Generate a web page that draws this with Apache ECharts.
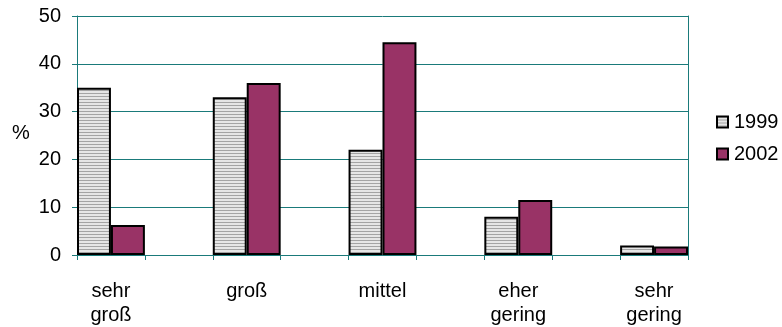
<!DOCTYPE html>
<html>
<head>
<meta charset="utf-8">
<script src="https://cdn.jsdelivr.net/npm/echarts@6/dist/echarts.min.js"></script>
<style>
  html, body { margin: 0; padding: 0; background: #ffffff; }
  #chart { width: 782px; height: 327px; }
</style>
</head>
<body>
<div id="chart"></div>
<script>
// Assessment categories (German survey labels)
var categories = ['sehr\ngroß', 'groß', 'mittel', 'eher\ngering', 'sehr\ngering'];
// Share of respondents in percent
var values1999 = [35, 33, 22, 8, 2];
var values2002 = [6.3, 36, 44.5, 11.5, 1.8];
var seriesNames = ['1999', '2002'];
var yTicks = [0, 10, 20, 30, 40, 50];

// Each category gets a slot for its bar pair plus an empty spacer slot,
// so the pair sits at the left of its band and ticks fall on the pair edges.
function spread(arr) {
  var out = [];
  for (var i = 0; i < arr.length; i++) {
    out.push(arr[i]);
    if (i < arr.length - 1) out.push(null);
  }
  return out;
}
var axisSlots = spread(categories).map(function (c) { return c === null ? '' : c; });

// Horizontal hatch fill for the 1999 bars
var hatch = document.createElement('canvas');
hatch.width = 4; hatch.height = 3;
var hctx = hatch.getContext('2d');
hctx.fillStyle = '#e6e6e6';
hctx.fillRect(0, 0, 4, 3);
hctx.fillStyle = '#a4a4a4';
hctx.fillRect(0, 0, 4, 1);

var teal = '#1a7a7a';
var font = '"Liberation Sans", Arial, sans-serif';

var chart = echarts.init(document.getElementById('chart'), null, { renderer: 'canvas' });
chart.setOption({
  animation: false,
  backgroundColor: '#ffffff',
  textStyle: { fontFamily: font },
  grid: { left: 77, right: 94, top: 16, bottom: 70, containLabel: false },
  legend: {
    orient: 'vertical',
    left: 716,
    top: 112,
    padding: 0,
    itemWidth: 11,
    itemHeight: 11,
    itemGap: 12,
    icon: 'rect',
    textStyle: { fontSize: 20, color: '#000', fontFamily: font, padding: [0, 0, 0, 1] },
    data: seriesNames
  },
  graphic: [{
    type: 'text',
    left: 12,
    top: 123,
    style: { text: '%', fontSize: 20, fontFamily: font, fill: '#000' }
  }],
  xAxis: {
    type: 'category',
    data: axisSlots,
    boundaryGap: true,
    axisLine: { show: true, lineStyle: { color: teal, width: 1 } },
    axisTick: { show: true, length: 5, alignWithLabel: false, interval: 0, lineStyle: { color: teal } },
    axisLabel: {
      interval: 0,
      margin: 24,
      fontSize: 20,
      lineHeight: 24,
      color: '#000',
      fontFamily: font
    },
    splitLine: { show: false }
  },
  yAxis: [{
    type: 'value',
    min: yTicks[0],
    max: yTicks[yTicks.length - 1],
    interval: 10,
    axisLine: { show: true, lineStyle: { color: teal } },
    axisTick: { show: true, length: 5, lineStyle: { color: teal } },
    axisLabel: { margin: 16, fontSize: 20, color: '#000', fontFamily: font },
    splitLine: { show: true, lineStyle: { color: teal, width: 1 } }
  }, {
    type: 'value',
    position: 'right',
    min: 0,
    max: 50,
    interval: 10,
    axisLine: { show: true, lineStyle: { color: teal } },
    axisTick: { show: false },
    axisLabel: { show: false },
    splitLine: { show: false }
  }],
  series: [{
    name: seriesNames[0],
    type: 'bar',
    data: spread(values1999),
    barGap: '0%',
    barCategoryGap: '0%',
    itemStyle: { color: { image: hatch, repeat: 'repeat' }, borderColor: '#000', borderWidth: 2 }
  }, {
    name: seriesNames[1],
    type: 'bar',
    data: spread(values2002),
    barGap: '0%',
    barCategoryGap: '0%',
    itemStyle: { color: '#993366', borderColor: '#000', borderWidth: 2 }
  }]
});
</script>
</body>
</html>
